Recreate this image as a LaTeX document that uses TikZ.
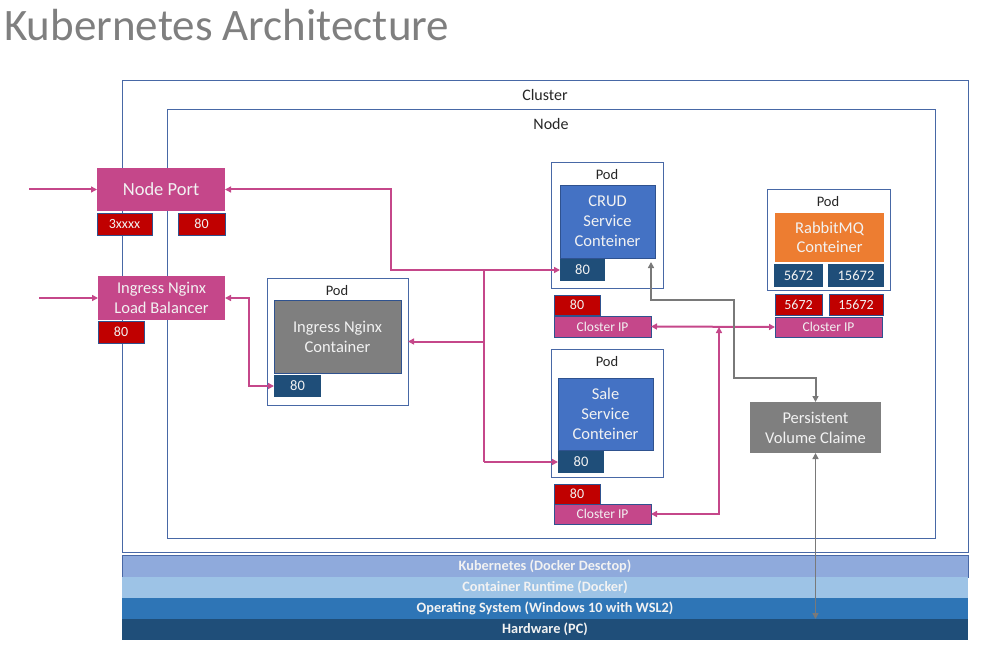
\documentclass[tikz,border=0pt]{standalone}
\usepackage{fontspec}
\setmainfont{Carlito}
\usetikzlibrary{arrows.meta}
\definecolor{mag}{RGB}{197,71,138}
\definecolor{redc}{RGB}{192,0,0}
\definecolor{navy}{RGB}{31,78,121}
\definecolor{blu}{RGB}{68,114,196}
\definecolor{org}{RGB}{237,125,49}
\definecolor{gry}{RGB}{127,127,127}
\definecolor{frame}{RGB}{72,104,166}
\definecolor{dkb}{RGB}{47,82,143}
\definecolor{barA}{RGB}{143,170,220}
\definecolor{barB}{RGB}{157,195,230}
\definecolor{barC}{RGB}{46,117,182}
\definecolor{barD}{RGB}{31,78,121}
\definecolor{txtw}{RGB}{242,242,242}
\definecolor{txtd}{RGB}{38,38,38}
\begin{document}
\begin{tikzpicture}[x=1pt,y=-1pt,
  bx/.style={inner sep=0pt, outer sep=0pt, anchor=north west, align=center, text=txtw},
  fr/.style={bx, draw=frame, line width=0.9pt},
  lbl/.style={inner sep=0pt, text=txtd, font=\fontsize{16}{19}\selectfont},
  podlbl/.style={inner sep=0pt, text=txtd, font=\fontsize{14.5}{17}\selectfont},
  magbox/.style={bx, fill=mag},
  redbox/.style={bx, fill=redc, draw=dkb, line width=0.7pt, font=\fontsize{14}{16}\selectfont},
  navybox/.style={bx, fill=navy, font=\fontsize{14.5}{16}\selectfont},
  ctr/.style={bx, draw=dkb, line width=0.9pt, font=\fontsize{16.5}{20}\selectfont},
  ipbox/.style={bx, fill=mag, draw=dkb, line width=0.7pt, font=\fontsize{13.5}{15}\selectfont},
  barbox/.style={bx, minimum width=846pt, font=\fontsize{14.3}{15}\selectfont\bfseries},
  mline/.style={draw=mag, line width=2pt},
  gline/.style={draw=gry!95!black, line width=2pt},
  tip/.tip={Triangle[length=6pt,width=6pt]}
]
\useasboundingbox (0,0) rectangle (985,647);

% title
\node[anchor=base west, inner sep=0pt, text=gry, font=\fontsize{45}{48}\selectfont] (title) at (4,41) {Kubernetes Architecture};

% cluster and node frames
\node[fr, minimum width=846pt, minimum height=472pt] (cluster) at (122,80) {};
\node[lbl] (clusterlbl) at (545,95) {Cluster};
\node[fr, minimum width=768pt, minimum height=429pt] (nodebox) at (167,109) {};
\node[lbl] (nodelbl) at (551,124) {Node};

% Node Port
\node[magbox, minimum width=128pt, minimum height=43pt, font=\fontsize{18.5}{20}\selectfont] (np) at (97,168) {Node Port};
\node[redbox, minimum width=55pt, minimum height=22pt] (np3) at (97,213) {3xxxx};
\node[redbox, minimum width=47pt, minimum height=22pt] (np80) at (178,213) {80};

% Ingress LB
\node[magbox, minimum width=127pt, minimum height=44pt, font=\fontsize{16.5}{20}\selectfont] (lb) at (98,276) {Ingress Nginx\\Load Balancer};
\node[redbox, minimum width=46pt, minimum height=22pt] (lb80) at (98,321) {80};

% Ingress pod
\node[fr, minimum width=141pt, minimum height=127pt] (ipod) at (267,278) {};
\node[podlbl] (ipodlbl) at (337,291) {Pod};
\node[ctr, fill=gry, minimum width=127pt, minimum height=73pt] (ic) at (274,300) {Ingress Nginx\\Container};
\node[navybox, minimum width=47pt, minimum height=22pt] (i80) at (274,375) {80};

% CRUD pod
\node[fr, minimum width=112pt, minimum height=126pt] (crudpod) at (551,162) {};
\node[podlbl] (crudlbl) at (607,175) {Pod};
\node[ctr, fill=blu, minimum width=95pt, minimum height=73pt] (crudc) at (560,185) {CRUD\\Service\\Conteiner};
\node[navybox, minimum width=45pt, minimum height=22pt] (crud80) at (560,259) {80};
\node[redbox, minimum width=46pt, minimum height=20pt] (crudr80) at (554,295) {80};
\node[ipbox, minimum width=97pt, minimum height=21pt] (crudip) at (554,316) {Closter IP};

% Sale pod
\node[fr, minimum width=112pt, minimum height=128pt] (salepod) at (551,349) {};
\node[podlbl] (salelbl) at (607,362) {Pod};
\node[ctr, fill=blu, minimum width=95pt, minimum height=72pt] (salec) at (558,378) {Sale\\Service\\Conteiner};
\node[navybox, minimum width=46pt, minimum height=22pt] (sale80) at (558,451) {80};
\node[redbox, minimum width=46pt, minimum height=20pt] (saler80) at (554,484) {80};
\node[ipbox, minimum width=97pt, minimum height=20pt] (saleip) at (554,504) {Closter IP};

% RabbitMQ pod
\node[fr, minimum width=123pt, minimum height=101pt] (rabpod) at (767,189) {};
\node[podlbl] (rablbl) at (828,202) {Pod};
\node[bx, fill=org, minimum width=109pt, minimum height=49pt, font=\fontsize{16.5}{19}\selectfont] (rabc) at (775,213) {RabbitMQ\\Conteiner};
\node[navybox, minimum width=49pt, minimum height=23pt] (rab1) at (774,264) {5672};
\node[navybox, minimum width=56pt, minimum height=23pt] (rab2) at (828,264) {15672};
\node[redbox, minimum width=47pt, minimum height=21pt] (rabr1) at (775,294) {5672};
\node[redbox, minimum width=54pt, minimum height=21pt] (rabr2) at (829,294) {15672};
\node[ipbox, minimum width=107pt, minimum height=20pt] (rabip) at (775,317) {Closter IP};

% PVC
\node[bx, fill=gry, minimum width=131pt, minimum height=51pt, font=\fontsize{16.5}{20}\selectfont] (pvc) at (750,402) {Persistent\\Volume Claime};

% bars
\node[barbox, fill=barA, draw=frame, line width=0.6pt, minimum height=22pt] (b1) at (122,555) {Kubernetes (Docker Desctop)};
\node[barbox, fill=barB, minimum height=21pt] (b2) at (122,577) {Container Runtime (Docker)};
\node[barbox, fill=barC, minimum height=21pt] (b3) at (122,598) {Operating System (Windows 10 with WSL2)};
\node[barbox, fill=barD, minimum height=21pt] (b4) at (122,619) {Hardware (PC)};

% connectors
\coordinate (in1) at (29,189.5);
\coordinate (in2) at (39,298);
\draw[mline,-tip] (in1) -- (np.west);
\draw[mline,-tip] (in2) -- (lb.west);

\coordinate (j1) at (391,270);
\draw[mline,tip-tip] (np.east) -| (j1) -- (crud80.west);
\coordinate (j2) at (484,270);
\coordinate (j3) at (484,462);
\draw[mline] (j2) -- (j3);
\draw[mline,-tip] (j3) -- (sale80.west);
\coordinate (j4) at (484,341.5);
\draw[mline,-tip] (j4) -- (ipod.east);

\coordinate (j5) at (249,386);
\draw[mline,tip-tip] (lb.east) -| (j5) -- (i80.west);

\draw[mline,tip-tip] (crudip.east) -- (rabip.west);
\coordinate (j6) at (719,327);
\draw[mline,tip-tip] (saleip.east) -| (j6);

\coordinate (g1) at (651,300);
\coordinate (g2) at (734,300);
\coordinate (g3) at (734,378);
\coordinate (g4) at (815.5,378);
\draw[gline,tip-tip] ([shift={(-4,4)}]crudc.south east) -- (g1) -- (g2) -- (g3) -- (g4) -- (pvc.north);
\draw[gline,line width=1.5pt,tip-tip] (pvc.south) -- (pvc.south |- b4.north);
\end{tikzpicture}
\end{document}
